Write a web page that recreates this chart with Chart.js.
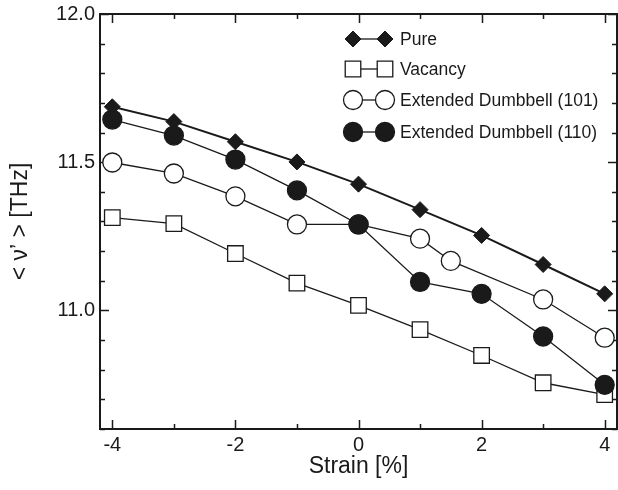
<!DOCTYPE html>
<html>
<head>
<meta charset="utf-8">
<script src="https://cdn.jsdelivr.net/npm/chart.js@4"></script>
<style>
  html, body { margin: 0; padding: 0; background: #fff; }
  #wrap { width: 618px; height: 490px; }
</style>
</head>
<body>
<div id="wrap"><canvas id="my-chart" width="618" height="490"></canvas></div>
<script>
// strain values [%] and frequencies [THz]
const strain = [-4, -3, -2, -1, 0, 1, 2, 3, 4]
const pure = [11.687, 11.637, 11.569, 11.501, 11.426, 11.34, 11.253, 11.155, 11.056]
const vacancy = [11.313, 11.293, 11.192, 11.092, 11.017, 10.935, 10.848, 10.756, 10.716]
const strain101 = [-4, -3, -2, -1, 0, 1, 1.5, 3, 4]
const dumbbell101 = [11.499, 11.462, 11.385, 11.29, 11.29, 11.242, 11.167, 11.037, 10.908]
const dumbbell110 = [11.644, 11.59, 11.509, 11.405, 11.29, 11.096, 11.056, 10.912, 10.749]

const xTicks = [-4, -3, -2, -1, 0, 1, 2, 3, 4]
const xLabels = [-4, -2, 0, 2, 4]
const yTicks = [10.6, 10.7, 10.8, 10.9, 11.0, 11.1, 11.2, 11.3, 11.4, 11.5, 11.6, 11.7, 11.8, 11.9, 12.0]
const yLabels = [11.0, 11.5, 12.0]

const pts = (xs, ys) => xs.map((x, i) => ({ x: x, y: ys[i] }))

const ink = '#1a1a1a'
const font = '"Liberation Sans", Arial, sans-serif'

// inward ticks on all four sides + box frame
const frame = {
    id: 'frame',
    beforeDatasetsDraw(chart) {
        const { ctx, chartArea: a, scales } = chart
        ctx.save()
        ctx.strokeStyle = ink
        ctx.lineWidth = 1.5
        xTicks.forEach(v => {
            const px = Math.round(scales.x.getPixelForValue(v)) + 0.5
            const len = xLabels.includes(v) ? 9 : 5
            ctx.beginPath()
            ctx.moveTo(px, a.bottom); ctx.lineTo(px, a.bottom - len)
            ctx.moveTo(px, a.top); ctx.lineTo(px, a.top + len)
            ctx.stroke()
        })
        yTicks.forEach(v => {
            const py = Math.round(scales.y.getPixelForValue(v)) + 0.5
            const len = yLabels.some(l => Math.abs(l - v) < 1e-6) ? 9 : 5
            ctx.beginPath()
            ctx.moveTo(a.left, py); ctx.lineTo(a.left + len, py)
            ctx.moveTo(a.right, py); ctx.lineTo(a.right - len, py)
            ctx.stroke()
        })
        ctx.lineWidth = 2
        ctx.strokeRect(a.left, a.top, a.right - a.left, a.bottom - a.top)
        ctx.restore()
    }
}

// legend with marker-line-marker symbols like the original
const legendBox = {
    id: 'legendBox',
    afterDraw(chart) {
        const { ctx } = chart
        const rows = [39, 69, 100, 132]
        const x1 = 353, x2 = 385, tx = 400
        ctx.save()
        ctx.font = '17.5px ' + font
        ctx.textBaseline = 'middle'
        chart.data.datasets.forEach(ds => {
            const y = rows[ds.legendRow]
            ctx.strokeStyle = ink
            ctx.lineWidth = 1.3
            ctx.beginPath(); ctx.moveTo(x1, y); ctx.lineTo(x2, y); ctx.stroke()
            ;[x1, x2].forEach(x => {
                ctx.fillStyle = ds.pointBackgroundColor
                ctx.strokeStyle = ink
                ctx.lineWidth = ds.pointBorderWidth
                Chart.helpers.drawPoint(ctx, {
                    pointStyle: ds.pointStyle,
                    radius: ds.pointRadius,
                    rotation: 0,
                    borderWidth: ds.pointBorderWidth
                }, x, y)
            })
            ctx.fillStyle = ink
            ctx.fillText(ds.label, tx, y + 1)
        })
        ctx.restore()
    }
}

const myChart = document.getElementById('my-chart')

new Chart(myChart, {
    type: 'line',
    data: {
        datasets: [
            {
                label: 'Pure',
                data: pts(strain, pure),
                borderColor: ink,
                borderWidth: 2,
                pointStyle: 'rectRot',
                pointRadius: 8,
                pointBackgroundColor: ink,
                pointBorderColor: ink,
                pointBorderWidth: 1,
                legendRow: 0,
                order: 3
            },
            {
                label: 'Vacancy',
                data: pts(strain, vacancy),
                borderColor: ink,
                borderWidth: 1.3,
                pointStyle: 'rect',
                pointRadius: 11,
                pointBackgroundColor: '#fff',
                pointBorderColor: ink,
                pointBorderWidth: 1.3,
                legendRow: 1,
                order: 4
            },
            {
                label: 'Extended Dumbbell (101)',
                data: pts(strain101, dumbbell101),
                borderColor: ink,
                borderWidth: 1.3,
                pointStyle: 'circle',
                pointRadius: 9.5,
                pointBackgroundColor: '#fff',
                pointBorderColor: ink,
                pointBorderWidth: 1.3,
                legendRow: 2,
                order: 2
            },
            {
                label: 'Extended Dumbbell (110)',
                data: pts(strain, dumbbell110),
                borderColor: ink,
                borderWidth: 1.3,
                pointStyle: 'circle',
                pointRadius: 9.5,
                pointBackgroundColor: ink,
                pointBorderColor: ink,
                pointBorderWidth: 1.3,
                legendRow: 3,
                order: 1
            }
        ]
    },
    options: {
        responsive: false,
        animation: false,
        layout: { autoPadding: false, padding: { top: 14, right: 1, left: 0, bottom: 0 } },
        plugins: {
            legend: { display: false },
            tooltip: { enabled: false }
        },
        elements: { line: { tension: 0 } },
        datasets: { line: { clip: false } },
        scales: {
            x: {
                type: 'linear',
                min: -4.2,
                max: 4.2,
                afterBuildTicks: s => { s.ticks = xLabels.map(v => ({ value: v })) },
                afterFit: s => { s.height = 61; s.paddingLeft = 0; s.paddingRight = 0 },
                grid: { display: false, drawTicks: false },
                border: { display: false },
                ticks: {
                    color: ink,
                    padding: 4,
                    font: { family: font, size: 20 },
                    callback: v => String(v)
                },
                title: {
                    display: true,
                    text: 'Strain [%]',
                    color: ink,
                    font: { family: font, size: 23 },
                    padding: { top: 0, bottom: 10 }
                }
            },
            y: {
                type: 'linear',
                min: 10.6,
                max: 12.0,
                afterBuildTicks: s => { s.ticks = yLabels.map(v => ({ value: v })) },
                afterFit: s => { s.width = 100; s.paddingTop = 0; s.paddingBottom = 0 },
                grid: { display: false, drawTicks: false },
                border: { display: false },
                ticks: {
                    color: ink,
                    padding: 5,
                    font: { family: font, size: 20 },
                    callback: v => Number(v).toFixed(1)
                },
                title: {
                    display: true,
                    text: '< \u03bd\u2019 > [THz]',
                    color: ink,
                    font: { family: font, size: 23 },
                    padding: { top: 7, bottom: 0 }
                }
            }
        }
    },
    plugins: [frame, legendBox]
})
</script>
</body>
</html>
